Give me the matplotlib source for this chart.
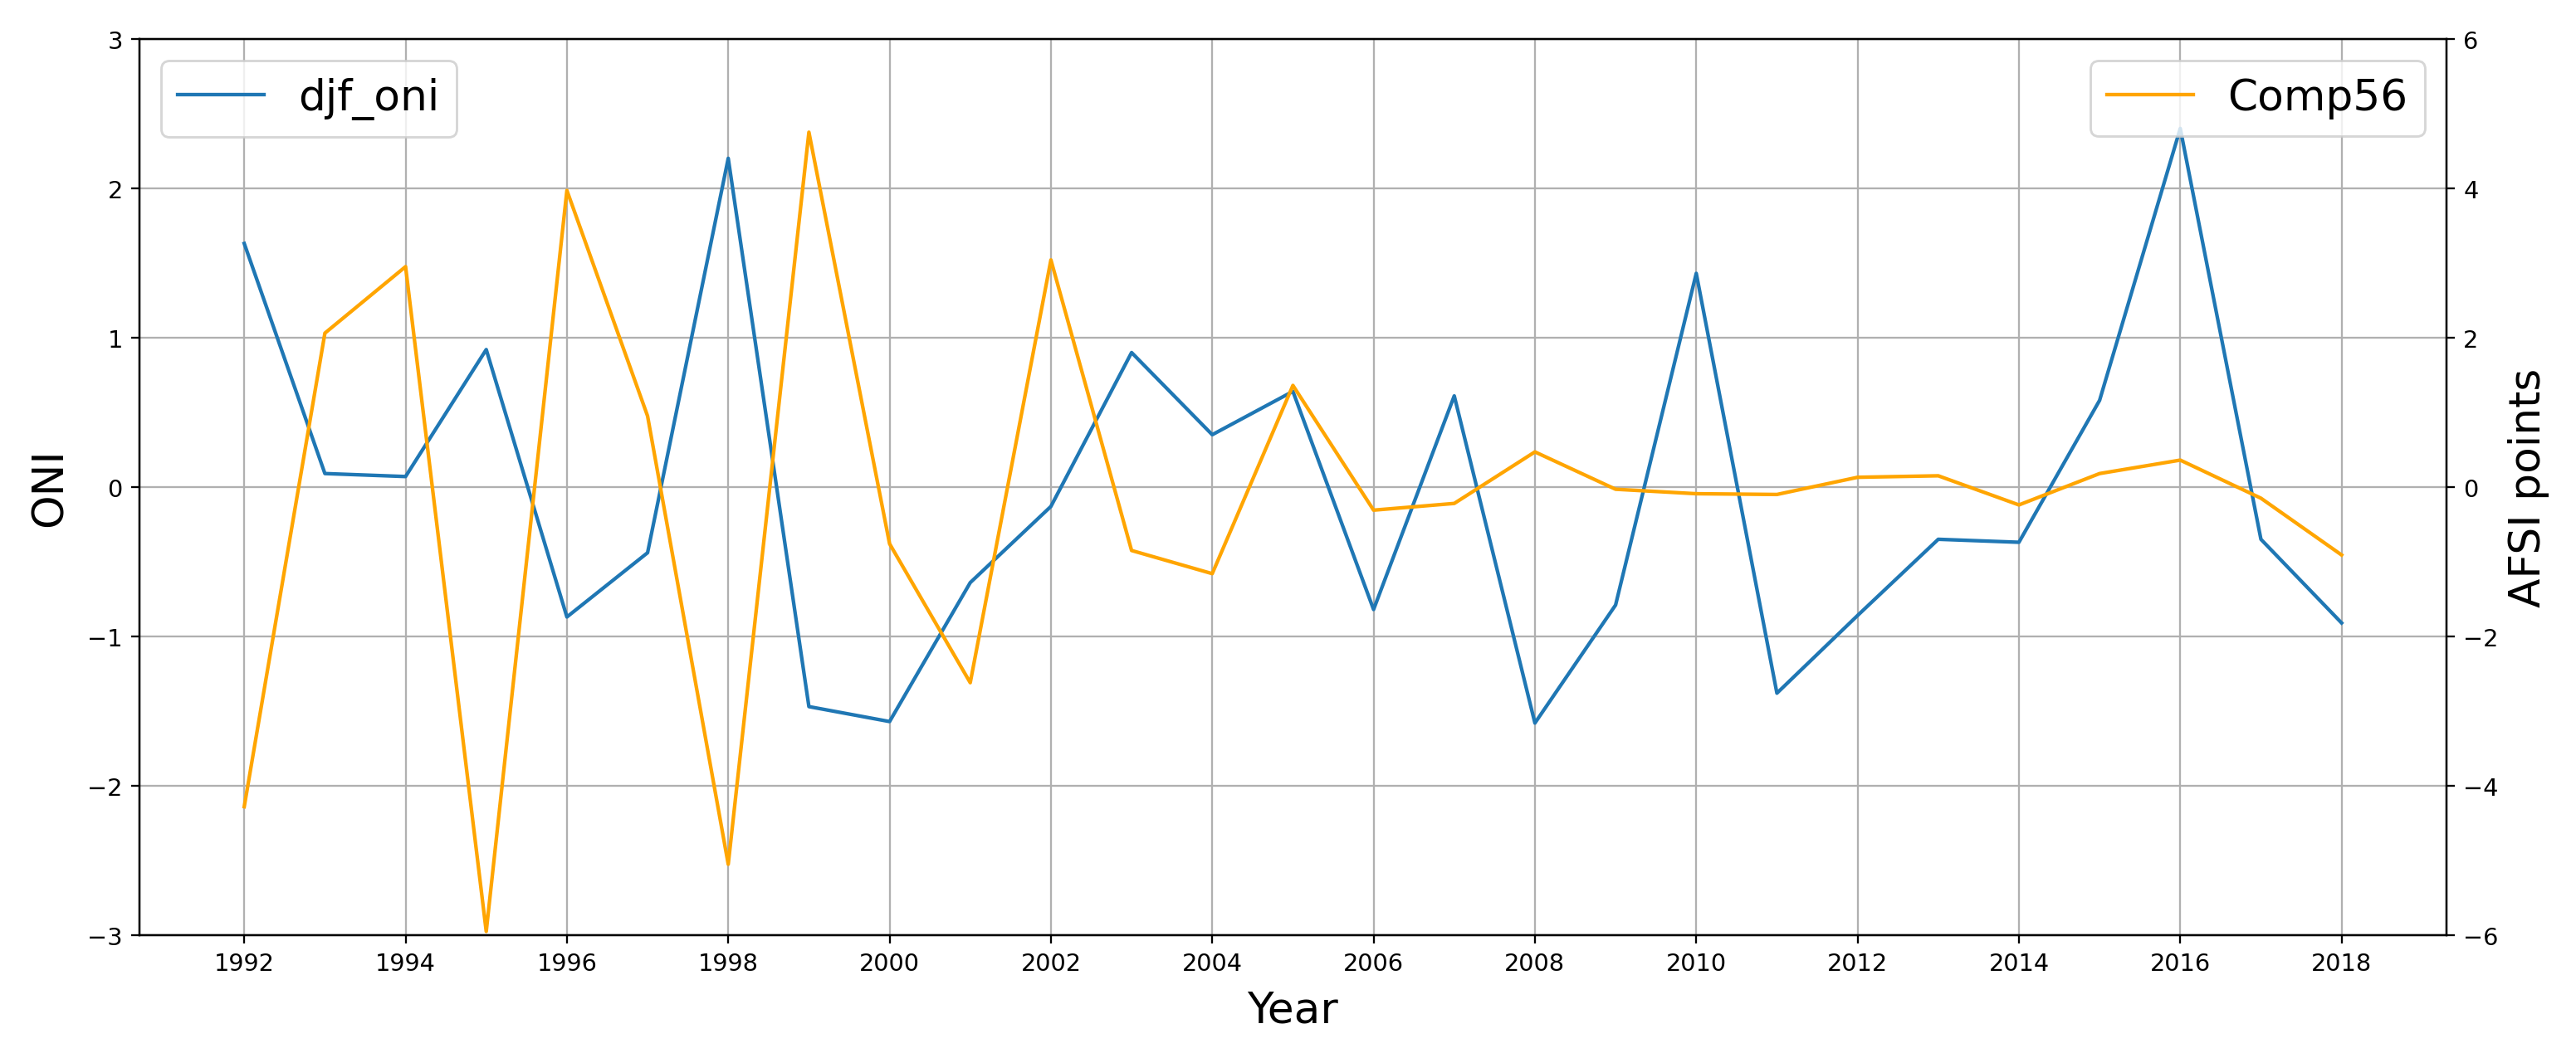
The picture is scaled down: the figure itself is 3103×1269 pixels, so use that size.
import numpy as np
import matplotlib
matplotlib.use("Agg")
import matplotlib.pyplot as plt

# Donnees
years = list(range(1992, 2019))
djf_oni = [1.63, 0.09, 0.07, 0.92, -0.87, -0.44, 2.20, -1.47, -1.57, -0.64,
           -0.13, 0.90, 0.35, 0.64, -0.82, 0.61, -1.58, -0.79, 1.43, -1.38,
           -0.86, -0.35, -0.37, 0.58, 2.40, -0.35, -0.91]
comp56 = [-4.28, 2.06, 2.95, -5.95, 3.97, 0.95, -5.05, 4.75, -0.76, -2.62,
          3.04, -0.85, -1.16, 1.36, -0.31, -0.22, 0.47, -0.03, -0.09, -0.10,
          0.13, 0.15, -0.24, 0.18, 0.36, -0.15, -0.91]
xticks = list(range(1992, 2019, 2))

fig = plt.figure(figsize=(15, 6.139), dpi=206.87)
ax1 = fig.add_axes([0.0541, 0.1118, 0.8956, 0.8506])
ax1.plot(years, djf_oni, color='#1f77b4', label='djf_oni')
ax1.set_ylim(-3, 3)
ax1.set_xticks(xticks)
ax1.grid(True)
ax1.set_xlabel('Year', fontsize=18, labelpad=6)
ax1.set_ylabel('ONI', fontsize=18, labelpad=7)
ax1.legend(loc='upper left', fontsize=18)

ax2 = ax1.twinx()
ax2.plot(years, comp56, color='orange', label='Comp56')
ax2.set_ylim(-6, 6)
ax2.set_ylabel('AFSI points', fontsize=18)
ax2.legend(loc='upper right', fontsize=18)

fig.savefig('out.png', dpi=206.87)
